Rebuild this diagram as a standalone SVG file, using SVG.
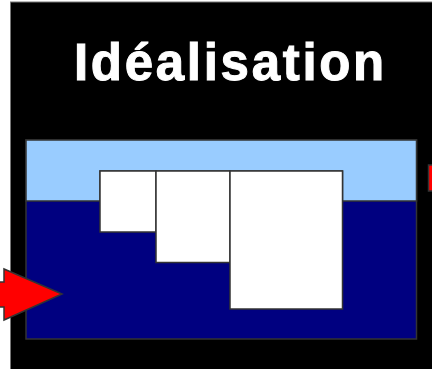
<svg xmlns="http://www.w3.org/2000/svg" width="432" height="369" viewBox="0 0 432 369">
<style>
.box{stroke:#333;stroke-width:1.5}
.w{fill:#fff}
.arrow{fill:#ff0000;stroke:#333;stroke-width:1.5}
.title{font-family:"Liberation Sans",Arial,sans-serif;font-weight:bold;font-size:51px;fill:#fff;stroke:#fff;stroke-width:1;letter-spacing:2.7px}
</style>
<rect x="0" y="0" width="432" height="369" fill="#fff"/>
<rect id="frame" x="10.5" y="2" width="423" height="369" fill="#000" stroke="#777" stroke-width="1"/>
<text class="title" x="74" y="80">Idéalisation</text>
<g id="tank">
<rect x="26" y="140" width="390.5" height="199" fill="#000080" class="box"/>
<path d="M26 140 H416.5 V201 H342.5 V171 H100 V201 H26 Z" fill="#99ccff" class="box"/>
</g>
<g id="block1"><rect class="w box" x="100" y="171" width="56" height="61"/></g>
<g id="block2"><rect class="w box" x="156" y="171" width="74" height="91.5"/></g>
<g id="block3"><rect class="w box" x="230" y="171" width="112.5" height="138"/></g>
<g id="connectors">
<path class="arrow" d="M-5 282 H4 V269 L62 294 L4 320 V307 H-5 Z"/>
<rect class="arrow" x="428.5" y="165" width="10" height="26"/>
</g>
</svg>
